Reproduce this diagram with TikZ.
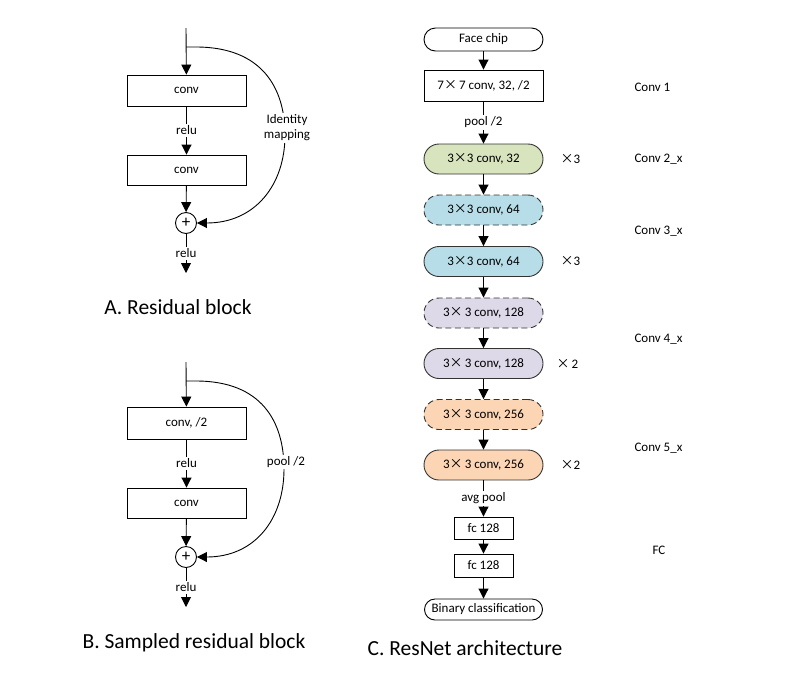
\documentclass[tikz,border=0pt]{standalone}
\usepackage{fontspec}
\setmainfont{Carlito}
\newfontfamily\cjk{Noto Sans CJK SC}
\usetikzlibrary{arrows.meta}
\usetikzlibrary{positioning}
\definecolor{stagegreen}{HTML}{D7E4BD}
\definecolor{stageblue}{HTML}{B7DEE8}
\definecolor{stagepurple}{HTML}{DDD9E8}
\definecolor{stageorange}{HTML}{FCD5B5}
\newcommand{\by}{{\cjk ×}}
\tikzset{flow/.style = {-{Triangle[length=10pt,width=10pt]}, line width=0.9pt},
         layer/.style = {draw, line width=0.9pt, minimum width=119pt, minimum height=31pt,
                         inner sep=0pt, font=\fontsize{13}{15}\selectfont},
         stage/.style = {layer, draw=black!80, minimum height=30pt, rounded corners=15pt},
         skipped/.style = {dash pattern=on 6pt off 3.5pt},
         lbl/.style = {fill=white, inner sep=1.5pt, font=\fontsize{13}{15}\selectfont},
         side/.style = {anchor=west, font=\fontsize{13}{15}\selectfont},
         caption/.style = {font=\fontsize{21.5}{24}\selectfont},
         adder/.style = {draw, circle, line width=0.9pt, minimum size=21pt, inner sep=0pt,
                         font=\fontsize{17}{17}\selectfont}}

\begin{document}
\begin{tikzpicture}[x=1pt, y=-1pt]
    \useasboundingbox (0, 0) rectangle (800, 675);
    % A. residual block
    \coordinate (inA) at (186, 28);
    \coordinate (splitA) at (186, 47);
    \node (convA1) at (186.5, 90.5) [layer] {conv};
    \node (convA2) at (186.5, 170) [layer, minimum height=30pt] {conv};
    \node (addA) at (186, 223) [adder] {+};
    \coordinate (outA) at (186, 273);
    \draw [flow] (inA) -- (convA1);
    \draw [flow] (convA1) -- node [lbl] {relu} (convA2);
    \draw [flow] (convA2) -- (addA);
    \draw [flow] (addA) -- node [lbl] {relu} (outA);
    \draw [flow] (splitA) -- (196, 47) .. controls (262, 47) and (285, 88) .. (285, 135)
                 .. controls (285, 185) and (255, 223) .. (addA.east);
    \node (idA) at (287, 128) [lbl, align=center] {Identity\\mapping};
    \node (capA) at (178, 307) [caption] {A. Residual block};
    % B. sampled residual block
    \coordinate (inB) at (186, 362);
    \coordinate (splitB) at (186, 381);
    \node (convB1) at (186.5, 423) [layer, minimum height=32pt] {conv, /2};
    \node (convB2) at (186.5, 503) [layer, minimum height=30pt] {conv};
    \node (addB) at (186, 557) [adder] {+};
    \coordinate (outB) at (186, 607);
    \draw [flow] (inB) -- (convB1);
    \draw [flow] (convB1) -- node [lbl] {relu} (convB2);
    \draw [flow] (convB2) -- (addB);
    \draw [flow] (addB) -- node [lbl] {relu} (outB);
    \draw [flow] (splitB) -- (196, 381) .. controls (262, 381) and (284, 422) .. (284, 469)
                 .. controls (284, 519) and (255, 557) .. (addB.east);
    \node (poolB) at (286, 462) [lbl] {pool /2};
    \node (capB) at (194, 643) [caption] {B. Sampled residual block};
    % C. ResNet architecture
    \node (chip) at (483.5, 39.5) [layer, minimum height=23pt, rounded corners=11.5pt] {Face chip};
    \node (conv1) at (483.5, 85.5) [layer] {7\by\,7 conv, 32, /2};
    \node (c2) at (483.5, 159) [stage, fill=stagegreen] {3\by3 conv, 32};
    \node (c3a) at (483.5, 210) [stage, skipped, fill=stageblue] {3\by3 conv, 64};
    \node (c3b) at (483.5, 261.5) [stage, fill=stageblue] {3\by3 conv, 64};
    \node (c4a) at (483.5, 313) [stage, skipped, fill=stagepurple] {3\by\,3 conv, 128};
    \node (c4b) at (483.5, 363.5) [stage, fill=stagepurple] {3\by\,3 conv, 128};
    \node (c5a) at (483.5, 414.5) [stage, skipped, fill=stageorange] {3\by\,3 conv, 256};
    \node (c5b) at (483.5, 465) [stage, fill=stageorange] {3\by\,3 conv, 256};
    \node (fc1) at (483.5, 528) [layer, minimum width=59pt, minimum height=22pt] {fc 128};
    \node (fc2) at (483.5, 565.5) [layer, minimum width=59pt, minimum height=23pt] {fc 128};
    \node (out) at (483.5, 609.5) [layer, minimum width=118pt, minimum height=21pt,
                                   rounded corners=10.5pt] {Binary classification};
    \draw [flow] (chip) -- (conv1);
    \draw [flow] (conv1) -- node [lbl] {pool /2} (c2);
    \draw [flow] (c2) -- (c3a);
    \draw [flow] (c3a) -- (c3b);
    \draw [flow] (c3b) -- (c4a);
    \draw [flow] (c4a) -- (c4b);
    \draw [flow] (c4b) -- (c5a);
    \draw [flow] (c5a) -- (c5b);
    \draw [flow] (c5b) -- node [lbl] {avg pool} (fc1);
    \draw [flow] (fc1) -- (fc2);
    \draw [flow] (fc2) -- (out);
    \node (rep2) at (557, 159) [side] {\by3};
    \node (rep3) at (557, 261.5) [side] {\by3};
    \node (rep4) at (553, 363.5) [side] {\by\,2};
    \node (rep5) at (557, 465) [side] {\by2};
    \node (grp1) at (631, 87) [side] {Conv 1};
    \node (grp2) at (631, 159) [side] {Conv 2\_x};
    \node (grp3) at (631, 231) [side] {Conv 3\_x};
    \node (grp4) at (631, 339) [side] {Conv 4\_x};
    \node (grp5) at (631, 448) [side] {Conv 5\_x};
    \node (grpfc) at (649, 550) [side] {FC};
    \node (capC) at (465, 648) [caption] {C. ResNet architecture};
\end{tikzpicture}
\end{document}
